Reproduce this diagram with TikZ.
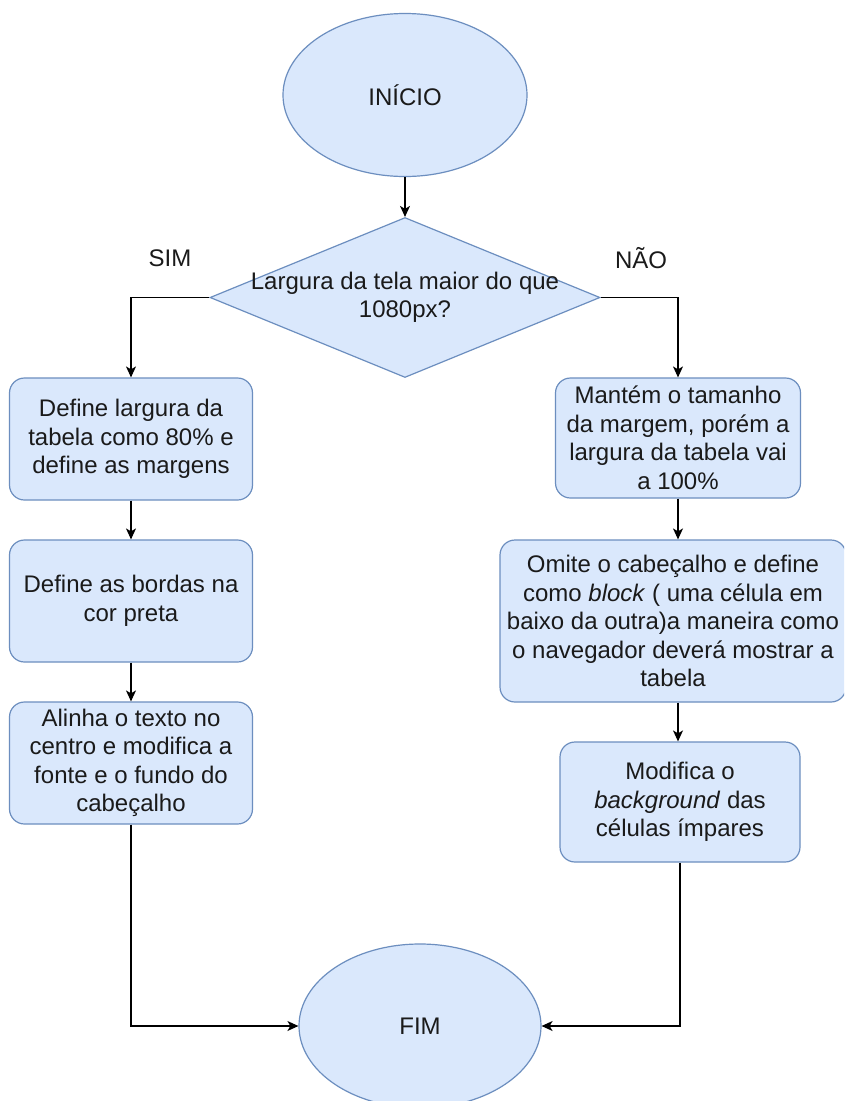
\documentclass[tikz,border=0pt]{standalone}
\usepackage{fontspec}
\setmainfont{Liberation Sans}
\usetikzlibrary{shapes.geometric,arrows.meta}
\definecolor{boxfill}{HTML}{DAE8FC}
\definecolor{boxline}{HTML}{6C8EBF}
\definecolor{ink}{HTML}{1A1A1A}
\tikzset{
  base/.style={fill=boxfill, draw=boxline, line width=1.2pt, text=ink,
    font=\fontsize{24}{28.5}\selectfont, align=center, inner sep=0pt},
  terminal/.style={base, ellipse, minimum width=244pt, minimum height=163pt},
  decision/.style={base, diamond, minimum width=390pt, minimum height=160pt},
  stepbox/.style={base, rectangle, rounded corners=15pt},
  flow/.style={draw=black, line width=1.2pt, -{Stealth[length=11pt,width=10pt,inset=3pt]}},
  branch/.style={text=ink, font=\fontsize{24}{28.5}\selectfont}
}
\begin{document}
\begin{tikzpicture}[x=1pt, y=-1pt]
  \fill[white] (0,0) rectangle (844,1101);
  \useasboundingbox (0,0) rectangle (844,1101);
  \clip (0,0) rectangle (844,1101);

  % start and decision
  \node[terminal] (ini) at (405,95) {INÍCIO};
  \node[decision, label={[branch, align=center]center:Largura da tela maior do que\\1080px?}] (dec) at (405,297.5) {};
  \node[branch] (sim) at (170,258) {SIM};
  \node[branch] (nao) at (641,258) {NÃO};

  % left branch
  \node[stepbox, minimum width=243pt, minimum height=122pt] (l1) at (131,439)
    {Define largura da\\tabela como 80\% e\\define as margens};
  \node[stepbox, minimum width=243pt, minimum height=122pt] (l2) at (131,601)
    {Define as bordas na\\cor preta};
  \node[stepbox, minimum width=243pt, minimum height=122pt] (l3) at (131,763)
    {Alinha o texto no\\centro e modifica a\\fonte e o fundo do\\cabeçalho};

  % right branch
  \node[stepbox, minimum width=245pt, minimum height=120pt] (r1) at (678,438)
    {Mantém o tamanho\\da margem, porém a\\largura da tabela vai\\a 100\%};
  \node[stepbox, minimum width=346pt, minimum height=162pt] (r2) at (673,621)
    {Omite o cabeçalho e define\\como \textit{block} ( uma célula em\\baixo da outra)a maneira como\\o navegador deverá mostrar a\\tabela};
  \node[stepbox, minimum width=240pt, minimum height=120pt] (r3) at (680,802)
    {Modifica o\\\textit{background} das\\células ímpares};

  % end
  \node[terminal, minimum width=242pt, minimum height=164pt] (fim) at (420,1026) {FIM};

  % connectors
  \draw[flow] (ini) -- (dec);
  \draw[flow] (dec.west) -- (l1.north |- dec.west) -- (l1.north);
  \draw[flow] (dec.east) -- (r1.north |- dec.east) -- (r1.north);
  \draw[flow] (l1) -- (l2);
  \draw[flow] (l2) -- (l3);
  \draw[flow] (r1.south) -- (r1.south |- r2.north);
  \draw[flow] (r1.south |- r2.south) -- (r1.south |- r3.north);
  \draw[flow] (l3.south) -- (l3.south |- fim.west) -- (fim.west);
  \draw[flow] (r3.south) -- (r3.south |- fim.east) -- (fim.east);
\end{tikzpicture}
\end{document}
